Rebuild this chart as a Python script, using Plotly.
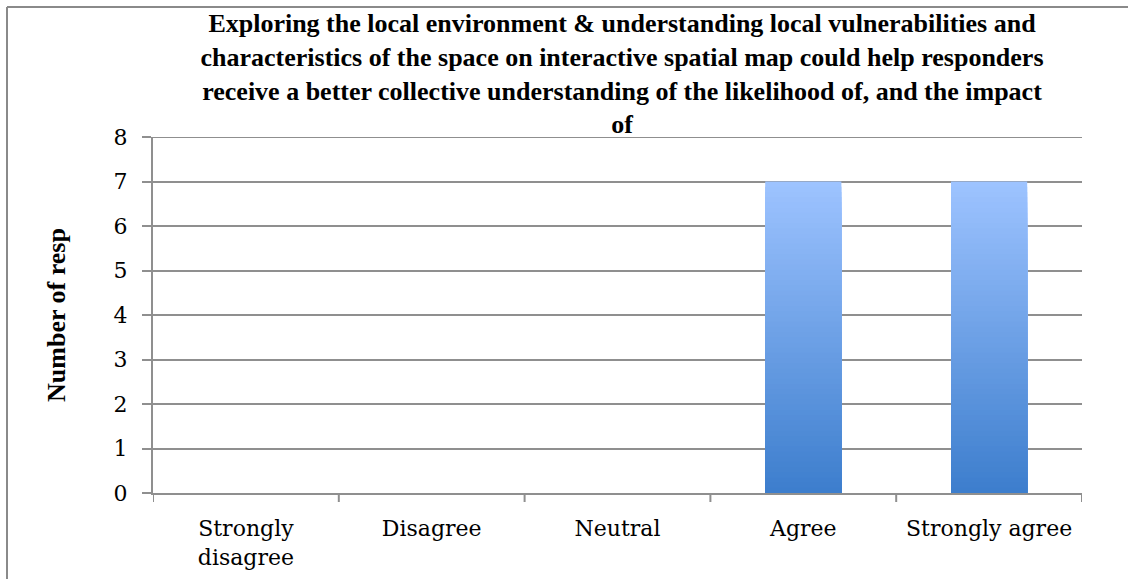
import plotly.graph_objects as go

categories = ["Strongly disagree", "Disagree", "Neutral", "Agree", "Strongly agree"]
tick_labels = ["Strongly<br>disagree", "Disagree", "Neutral", "Agree", "Strongly agree"]
values = [0, 0, 0, 7, 7]
y_max = 8
title_text = ("Exploring the local environment & understanding local vulnerabilities and<br>"
              "characteristics of the space on interactive spatial map could help responders<br>"
              "receive a better collective understanding of the likelihood of, and the impact<br>"
              "of")

top_rgb = (157, 195, 255)
bot_rgb = (61, 126, 205)
N = 60

W, H = 1128, 579
L, R, T, B = 153, 1128 - 1082, 137, 579 - 493
pw, ph = W - L - R, H - T - B

fig = go.Figure()
for k in range(N):
    frac = (N - k) / N
    t = k / (N - 1)
    c = tuple(round(top_rgb[i] + (bot_rgb[i] - top_rgb[i]) * t) for i in range(3))
    fig.add_trace(go.Bar(
        x=categories, y=[v * frac for v in values],
        marker=dict(color="rgb(%d,%d,%d)" % c, line=dict(width=0)),
        width=0.41, showlegend=False, hoverinfo="skip",
    ))

grid_col = "#8f8f8f"
fig.update_layout(
    width=W, height=H, barmode="overlay",
    margin=dict(l=L, r=R, t=T, b=B, autoexpand=False),
    paper_bgcolor="white", plot_bgcolor="white",
    title=dict(text=title_text, x=(L + pw / 2) / W + 0.004, xanchor="center",
               y=1 - 32 / H, yanchor="top",
               font=dict(family="Liberation Serif", size=26, color="black", weight="bold")),
    xaxis=dict(
        tickmode="array", tickvals=categories, ticktext=tick_labels,
        showgrid=False, showline=True, linecolor=grid_col, linewidth=2,
        ticks="", ticklabelstandoff=15,
        tickfont=dict(family="DejaVu Serif", size=22, color="black"),
        range=[-0.5, 4.5],
    ),
    yaxis=dict(
        range=[0, y_max], dtick=1, showgrid=True, gridcolor=grid_col, gridwidth=2,
        showline=True, linecolor=grid_col, linewidth=2, zeroline=False,
        ticks="outside", ticklen=9, tickcolor=grid_col, tickwidth=2,
        ticklabelstandoff=10,
        tickfont=dict(family="DejaVu Serif", size=22, color="black"),
        title=dict(text="Number of resp", standoff=40,
                   font=dict(family="Liberation Serif", size=26, color="black", weight="bold")),
    ),
)

# top gridline at the axis maximum
fig.add_shape(type="line", xref="paper", yref="y", x0=0, x1=1, y0=y_max, y1=y_max,
              line=dict(color=grid_col, width=2))

# category boundary tick marks below x axis
for i in range(len(categories) + 1):
    fig.add_shape(type="line", xref="x", yref="paper",
                  x0=i - 0.5, x1=i - 0.5, y0=0, y1=-9 / ph,
                  line=dict(color=grid_col, width=2))

# outer chart border (top and left visible)
fig.add_shape(type="line", xref="paper", yref="paper",
              x0=(7 - L) / pw, x1=(W + 5 - L) / pw, y0=(H - 7 - B) / ph, y1=(H - 7 - B) / ph,
              line=dict(color="#8a8a8a", width=2))
fig.add_shape(type="line", xref="paper", yref="paper",
              x0=(7 - L) / pw, x1=(7 - L) / pw, y0=(H - 7 - B) / ph, y1=-(B + 5) / ph,
              line=dict(color="#8a8a8a", width=2))

fig.write_html("out.html")
